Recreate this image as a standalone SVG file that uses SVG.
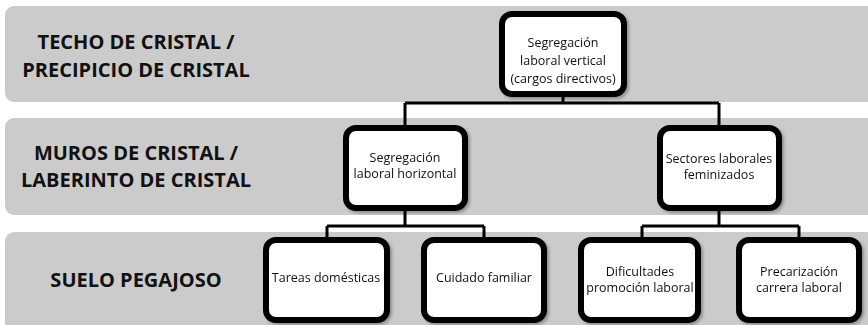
<svg xmlns="http://www.w3.org/2000/svg" width="868" height="325" viewBox="0 0 868 325">
<defs>
<style>
.band{fill:#cbcbcb}
.lbl{font-family:"Open Sans","Liberation Sans",sans-serif;font-weight:bold;font-size:20px;fill:#111;text-anchor:middle}
.box{fill:#fff;stroke:#000;stroke-width:6}
.t{font-family:"Open Sans","Liberation Sans",sans-serif;font-size:12.5px;fill:#111;text-anchor:middle}
.c{fill:none;stroke:#000;stroke-width:3}
</style>
<filter id="sh" x="-10%" y="-10%" width="130%" height="130%"><feDropShadow dx="2" dy="2" stdDeviation="1.5" flood-color="#000" flood-opacity="0.3"/></filter>
</defs>
<g id="bands">
<rect class="band" x="5" y="6" width="875" height="96" rx="9"/>
<rect class="band" x="5" y="118" width="875" height="97" rx="9"/>
<rect class="band" x="5" y="232" width="875" height="110" rx="9"/>
<text class="lbl" x="136" y="49">TECHO DE CRISTAL /</text>
<text class="lbl" x="136" y="77">PRECIPICIO DE CRISTAL</text>
<text class="lbl" x="136" y="160">MUROS DE CRISTAL /</text>
<text class="lbl" x="136" y="187">LABERINTO DE CRISTAL</text>
<text class="lbl" x="136" y="287">SUELO PEGAJOSO</text>
</g>
<g id="connectors">
<path class="c" d="M563 97V103M405 103H719M405 103V125M719 103V125"/>
<path class="c" d="M405 210V226M327 226H484M327 226V237M484 226V237"/>
<path class="c" d="M719 210V226M642 226H799M642 226V237M799 226V237"/>
</g>
<g id="n1" filter="url(#sh)">
<rect class="box" x="502" y="14" width="122" height="80" rx="10"/>
<text class="t" x="563" y="47">Segregación</text>
<text class="t" x="563" y="65">laboral vertical</text>
<text class="t" x="563" y="83">(cargos directivos)</text>
</g>
<g id="n2" filter="url(#sh)">
<rect class="box" x="346" y="128" width="119" height="80" rx="10"/>
<text class="t" x="405" y="162">Segregación</text>
<text class="t" x="405" y="178">laboral horizontal</text>
</g>
<g id="n3" filter="url(#sh)">
<rect class="box" x="660" y="128" width="119" height="80" rx="10"/>
<text class="t" x="719" y="163">Sectores laborales</text>
<text class="t" x="719" y="179">feminizados</text>
</g>
<g id="n4" filter="url(#sh)">
<rect class="box" x="266" y="240" width="121" height="80" rx="10"/>
<text class="t" x="326" y="282">Tareas domésticas</text>
</g>
<g id="n5" filter="url(#sh)">
<rect class="box" x="424" y="240" width="120" height="80" rx="10"/>
<text class="t" x="484" y="282">Cuidado familiar</text>
</g>
<g id="n6" filter="url(#sh)">
<rect class="box" x="581" y="240" width="117" height="80" rx="10"/>
<text class="t" x="640" y="276">Dificultades</text>
<text class="t" x="640" y="292">promoción laboral</text>
</g>
<g id="n7" filter="url(#sh)">
<rect class="box" x="739" y="240" width="120" height="80" rx="10"/>
<text class="t" x="799" y="276">Precarización</text>
<text class="t" x="799" y="292">carrera laboral</text>
</g>
</svg>
